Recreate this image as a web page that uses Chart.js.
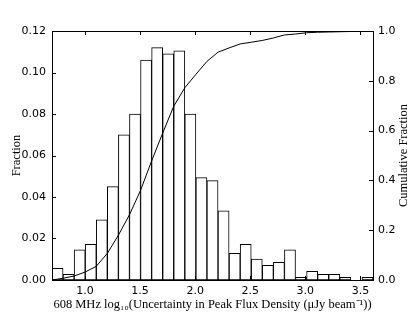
<!DOCTYPE html>
<html>
<head>
<meta charset="utf-8">
<script src="https://cdn.jsdelivr.net/npm/chart.js"></script>
<style>
  html, body { margin: 0; padding: 0; background: #fff; }
  #wrap { width: 415px; height: 312px; }
</style>
</head>
<body>
<div id="wrap"><canvas id="myChart" width="415" height="312"></canvas></div>
<script>
// ヒストグラムのビン（log10 の値）
const binStart = 0.70;
const binWidth = 0.1005;
const fractions = [
  0.0056, 0.0027, 0.0145, 0.0172, 0.029, 0.045, 0.070, 0.080, 0.106, 0.112,
  0.109, 0.1105, 0.080, 0.0493, 0.0479, 0.0333, 0.0128, 0.0172, 0.0101, 0.0071,
  0.0085, 0.0145, 0.0013, 0.0042, 0.0027, 0.0027, 0.0013, 0, 0.0013
];
// 累積分布（ビンの端ごと）
const cumulative = [
  0.0, 0.007, 0.016, 0.032, 0.055, 0.107, 0.18, 0.262, 0.36, 0.478,
  0.59, 0.698, 0.772, 0.826, 0.878, 0.915, 0.932, 0.948, 0.955, 0.962,
  0.972, 0.984, 0.988, 0.993, 0.995, 0.996, 0.997, 0.998, 0.999, 1.0
];
const xTicks = [1.0, 1.5, 2.0, 2.5, 3.0, 3.5];
const yTicks = [0.00, 0.02, 0.04, 0.06, 0.08, 0.10, 0.12];
const y2Ticks = [0.0, 0.2, 0.4, 0.6, 0.8, 1.0];

const xTitle = "608 MHz log\u2081\u2080(Uncertainty in Peak Flux Density (\u03bcJy beam\u207b\u00b9))";
const yTitle = "Fraction";
const y2Title = "Cumulative Fraction";

const tickFont = { family: "DejaVu Sans", size: 11 };
const titleFont = { family: "Liberation Serif", size: 12.5 };

const barData = fractions.map((f, i) => ({ x: binStart + binWidth * (i + 0.5), y: f }));
const cumData = cumulative.map((c, i) => ({ x: binStart + binWidth * i, y: c }));
const xMax = binStart + binWidth * fractions.length;

// 内向きの目盛りと枠を描く
const framePlugin = {
  id: "frame",
  afterDraw(chart) {
    const { ctx, chartArea: a, scales } = chart;
    ctx.save();
    ctx.strokeStyle = "#000";
    ctx.lineWidth = 1;
    ctx.beginPath();
    xTicks.forEach(v => {
      const px = Math.round(scales.x.getPixelForValue(v)) + 0.5;
      ctx.moveTo(px, a.bottom); ctx.lineTo(px, a.bottom - 4);
      ctx.moveTo(px, a.top); ctx.lineTo(px, a.top + 4);
    });
    yTicks.forEach(v => {
      const py = Math.round(scales.y.getPixelForValue(v)) + 0.5;
      ctx.moveTo(a.left, py); ctx.lineTo(a.left + 4, py);
    });
    y2Ticks.forEach(v => {
      const py = Math.round(scales.y2.getPixelForValue(v)) + 0.5;
      ctx.moveTo(a.right, py); ctx.lineTo(a.right - 4, py);
    });
    ctx.stroke();
    ctx.strokeRect(Math.round(a.left) + 0.5, Math.round(a.top) + 0.5,
      Math.round(a.right - a.left), Math.round(a.bottom - a.top));

    // 右軸のラベル（下から上へ）
    ctx.fillStyle = "#000";
    ctx.font = titleFont.size + "px " + titleFont.family;
    ctx.textAlign = "center";
    ctx.textBaseline = "middle";
    ctx.translate(404, (a.top + a.bottom) / 2);
    ctx.rotate(-Math.PI / 2);
    ctx.fillText(y2Title, 0, 0);
    ctx.restore();
  }
};

const ctx = document.getElementById("myChart").getContext("2d");
const chart = new Chart(ctx, {
  type: "bar",
  data: {
    datasets: [
      {
        type: "line",
        data: cumData,
        yAxisID: "y2",
        borderColor: "#000",
        borderWidth: 1,
        pointRadius: 0,
        tension: 0,
        order: 0,
      },
      {
        type: "bar",
        data: barData,
        yAxisID: "y",
        backgroundColor: "#fff",
        borderColor: "#000",
        borderWidth: 1,
        borderSkipped: false,
        barPercentage: 1,
        categoryPercentage: 1,
        grouped: false,
        order: 1,
      },
    ],
  },
  options: {
    responsive: false,
    animation: false,
    layout: { padding: { top: 31, left: 0, right: 0, bottom: 0 } },
    plugins: { legend: { display: false }, tooltip: { enabled: false } },
    scales: {
      x: {
        type: "linear",
        offset: false,
        min: binStart,
        max: xMax,
        grid: { display: false, drawTicks: false, offset: false },
        border: { display: false },
        afterBuildTicks: s => { s.ticks = xTicks.map(v => ({ value: v })); },
        afterFit: s => { s.height = 32; },
        ticks: {
          color: "#000",
          font: tickFont,
          padding: 5,
          maxRotation: 0,
          callback: v => v.toFixed(1),
        },
        title: {
          display: true,
          text: xTitle,
          color: "#000",
          font: titleFont,
          padding: { top: 0, bottom: 0 },
        },
      },
      y: {
        position: "left",
        min: 0,
        max: 0.12,
        grid: { display: false, drawTicks: false },
        border: { display: false },
        afterBuildTicks: s => { s.ticks = yTicks.map(v => ({ value: v })); },
        afterFit: s => { s.width = 52; },
        ticks: {
          color: "#000",
          font: tickFont,
          padding: 6,
          callback: v => v.toFixed(2),
        },
        title: {
          display: true,
          text: yTitle,
          color: "#000",
          font: titleFont,
          padding: { top: 9, bottom: 0 },
        },
      },
      y2: {
        position: "right",
        min: 0,
        max: 1,
        grid: { display: false, drawTicks: false },
        border: { display: false },
        afterBuildTicks: s => { s.ticks = y2Ticks.map(v => ({ value: v })); },
        afterFit: s => { s.width = 42; },
        ticks: {
          color: "#000",
          font: tickFont,
          padding: 5,
          callback: v => v.toFixed(1),
        },
      },
    },
  },
  plugins: [framePlugin],
});
</script>
</body>
</html>
